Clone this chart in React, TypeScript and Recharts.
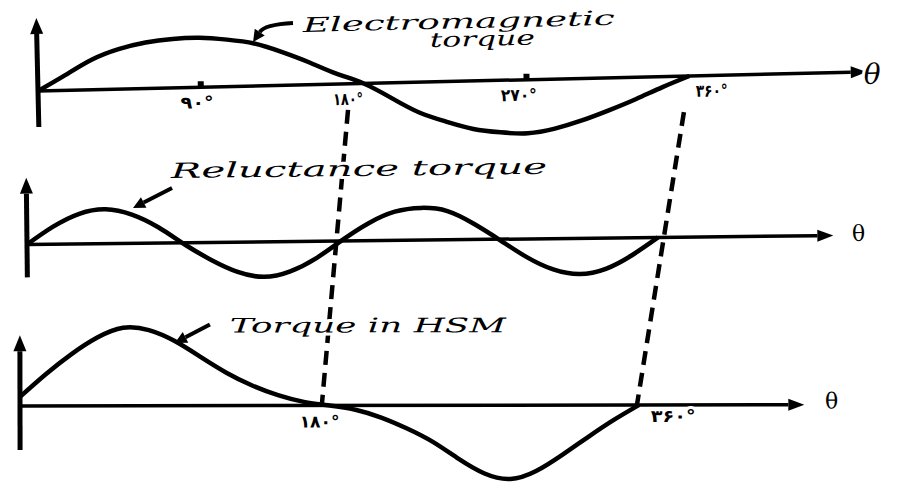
import React from 'react';
import { LineChart, Line, XAxis, YAxis, ReferenceLine, ReferenceDot } from 'recharts';

// rotor angle in degrees
const angles = [0, 15, 30, 45, 60, 75, 90, 105, 120, 135, 150, 165, 180, 195, 210, 225, 240, 255, 270, 285, 300, 315, 330, 345, 360];

// torque curves (arbitrary units)
const electromagnetic = [0, 0.3, 0.6, 0.8, 0.92, 0.98, 0.99, 0.94, 0.85, 0.67, 0.45, 0.21, 0, -0.3, -0.6, -0.8, -0.96, -1.04, -1.07, -0.99, -0.84, -0.65, -0.44, -0.21, 0];
const reluctance = [0, 0.5, 0.86, 0.98, 0.82, 0.45, -0.05, -0.5, -0.85, -1.0, -0.85, -0.48, 0.03, 0.5, 0.82, 0.92, 0.82, 0.45, -0.03, -0.52, -0.88, -1.02, -0.88, -0.5, 0];
const hsm = [0.15, 0.52, 0.85, 1.12, 1.28, 1.24, 1.06, 0.8, 0.54, 0.33, 0.17, 0.06, 0, -0.07, -0.2, -0.38, -0.6, -0.88, -1.12, -1.21, -1.08, -0.82, -0.53, -0.25, 0];

const topTickAngles = [90, 180, 270, 360];
const topTickLabels = ['۹۰°', '۱۸۰°', '۲۷۰°', '۳۶۰°'];
const hsmTickAngles = [180, 360];
const hsmTickLabels = ['۱۸۰°', '۳۶۰°'];

const curveTitles = ['Electromagnetic', 'torque', 'Reluctance torque', 'Torque in HSM'];

const W = 903;
const H = 484;

const TOP = { ox: 38, oy: 91, kx: 1.81, ky: 50, tilt: -1.32 };
const MID = { ox: 27, oy: 244.5, kx: 1.753, ky: 35, tilt: -0.64 };
const BOT = { ox: 20, oy: 406, kx: 1.72, ky: 61, tilt: -0.1 };

const rows = (vals: number[]) => angles.map((deg, i) => ({ deg, v: vals[i] }));

function arrowShape(head: number, spread: number, bend = 0) {
  return (p: any) => {
    const { x1, y1, x2, y2 } = p;
    const sw = p.strokeWidth ?? 3;
    const cx = x2 + (x1 - x2) * 0.3;
    const cy = y1 + (y2 - y1) * bend;
    const tx = bend ? x2 - cx : x2 - x1;
    const ty = bend ? y2 - cy : y2 - y1;
    const len = Math.hypot(tx, ty) || 1;
    const ux = tx / len;
    const uy = ty / len;
    const bx = x2 - ux * head;
    const by = y2 - uy * head;
    const d = bend ? `M${x1},${y1} Q${cx},${cy} ${bx},${by}` : `M${x1},${y1} L${bx},${by}`;
    const pts = `${x2},${y2} ${bx - uy * spread},${by + ux * spread} ${bx + uy * spread},${by - ux * spread}`;
    return (
      <g>
        <path d={d} fill="none" stroke="#000" strokeWidth={sw} />
        <polygon points={pts} fill="#000" />
      </g>
    );
  };
}

type TxtOpts = { size: number; italic?: boolean; bold?: boolean; length?: number; family?: string; anchor?: string; dx?: number; dy?: number };

function textShape(value: string, o: TxtOpts) {
  return (p: any) => (
    <text
      x={p.cx + (o.dx || 0)}
      y={p.cy + (o.dy || 0)}
      fontFamily={o.family || 'DejaVu Serif'}
      fontStyle={o.italic ? 'italic' : 'normal'}
      fontWeight={o.bold ? 'bold' : 'normal'}
      fontSize={o.size}
      textAnchor={o.anchor || 'start'}
      textLength={o.length}
      lengthAdjust={o.length ? 'spacingAndGlyphs' : undefined}
      fill="#000"
      stroke="#fff"
      strokeWidth={6}
      paintOrder="stroke"
      strokeLinejoin="round"
    >
      {value}
    </text>
  );
}

function Panel({ cfg, data, children }: { cfg: typeof TOP; data: any[]; children: React.ReactNode }) {
  const xDom = [-cfg.ox / cfg.kx, (W - cfg.ox) / cfg.kx];
  const yDom = [-(H - cfg.oy) / cfg.ky, cfg.oy / cfg.ky];
  return (
    <div
      style={{
        position: 'absolute', left: 0, top: 0, width: W, height: H,
        transform: `rotate(${cfg.tilt}deg)`, transformOrigin: `${cfg.ox}px ${cfg.oy}px`,
      }}
    >
      <LineChart width={W} height={H} data={data} margin={{ top: 0, right: 0, bottom: 0, left: 0 }}>
        <XAxis dataKey="deg" type="number" domain={xDom} hide allowDataOverflow />
        <YAxis type="number" domain={yDom} hide allowDataOverflow />
        {children}
        <Line dataKey="v" type="natural" stroke="#000" strokeWidth={4.5} dot={false} activeDot={false} isAnimationActive={false} />
      </LineChart>
    </div>
  );
}

const axisArrow = arrowShape(16, 6);
const vAxisArrow = arrowShape(16, 6.5);
const pointer = arrowShape(12, 6);
const guide = { stroke: '#000', strokeWidth: 4.5, strokeDasharray: '14 8' };

export default function App() {
  return (
    <div style={{ position: 'absolute', left: 0, top: 0, width: W, height: H, background: '#fff', overflow: 'hidden' }}>
      {/* Electromagnetic torque (also holds the dashed guide lines) */}
      <Panel cfg={TOP} data={rows(electromagnetic)}>
        <ReferenceLine segment={[{ x: 171, y: -0.52 }, { x: 152.9, y: -6.37 }]} {...guide} ifOverflow="visible" />
        <ReferenceLine segment={[{ x: 356.5, y: -0.72 }, { x: 326.9, y: -6.54 }]} {...guide} ifOverflow="visible" />
        <ReferenceLine segment={[{ x: 0, y: 0 }, { x: 458, y: 0 }]} strokeWidth={3.5} shape={axisArrow} ifOverflow="visible" />
        <ReferenceLine segment={[{ x: 0, y: -0.72 }, { x: 0, y: 1.46 }]} strokeWidth={5} shape={vAxisArrow} ifOverflow="visible" />
        {[90, 270].map((d) => (
          <ReferenceLine key={d} segment={[{ x: d, y: 0 }, { x: d, y: 0.12 }]} stroke="#000" strokeWidth={6} ifOverflow="visible" />
        ))}
        {topTickAngles.map((d, i) => (
          <ReferenceDot key={d} x={d} y={0} r={0} ifOverflow="visible"
            shape={textShape(topTickLabels[i], { size: 17, bold: true, family: 'DejaVu Sans', anchor: 'middle', length: [33, 30, 36, 32][i], dx: [-4, -16, -8, 22][i], dy: 21 })} />
        ))}
        <ReferenceDot x={147.1} y={1.058} r={0} ifOverflow="visible" shape={textShape(curveTitles[0], { size: 20, italic: true, length: 312 })} />
        <ReferenceDot x={217.1} y={0.7} r={0} ifOverflow="visible" shape={textShape(curveTitles[1], { size: 20, italic: true, length: 105 })} />
        <ReferenceLine segment={[{ x: 141.7, y: 1.24 }, { x: 119.4, y: 0.88 }]} strokeWidth={4} shape={arrowShape(12, 6, 0.05)} ifOverflow="visible" />
        <ReferenceDot x={456.3} y={-0.24} r={0} ifOverflow="visible" shape={textShape('θ', { size: 28, italic: true })} />
      </Panel>

      {/* Reluctance torque */}
      <Panel cfg={MID} data={rows(reluctance)}>
        <ReferenceLine segment={[{ x: 0, y: 0 }, { x: 460, y: 0 }]} strokeWidth={3.5} shape={axisArrow} ifOverflow="visible" />
        <ReferenceLine segment={[{ x: 0, y: -0.94 }, { x: 0, y: 1.91 }]} strokeWidth={5} shape={vAxisArrow} ifOverflow="visible" />
        <ReferenceDot x={82.6} y={1.855} r={0} ifOverflow="visible" shape={textShape(curveTitles[2], { size: 21, italic: true, length: 376 })} />
        <ReferenceLine segment={[{ x: 83.1, y: 1.57 }, { x: 60.7, y: 1.01 }]} strokeWidth={4} shape={pointer} ifOverflow="visible" />
        <ReferenceDot x={470.6} y={-0.16} r={0} ifOverflow="visible" shape={textShape('θ', { size: 22 })} />
      </Panel>

      {/* Torque in HSM */}
      <Panel cfg={BOT} data={rows(hsm)}>
        <ReferenceLine segment={[{ x: 0, y: 0 }, { x: 456, y: 0 }]} strokeWidth={3.5} shape={axisArrow} ifOverflow="visible" />
        <ReferenceLine segment={[{ x: 0, y: -0.72 }, { x: 0, y: 1.16 }]} strokeWidth={5} shape={vAxisArrow} ifOverflow="visible" />
        {hsmTickAngles.map((d, i) => (
          <ReferenceDot key={d} x={d} y={0} r={0} ifOverflow="visible"
            shape={textShape(hsmTickLabels[i], { size: 17, bold: true, family: 'DejaVu Sans', anchor: 'middle', length: [40, 45][i], dx: [-10, 34][i], dy: [22, 17][i] })} />
        ))}
        <ReferenceDot x={122.1} y={1.197} r={0} ifOverflow="visible" shape={textShape(curveTitles[3], { size: 20, italic: true, length: 276 })} />
        <ReferenceLine segment={[{ x: 110.5, y: 1.33 }, { x: 90.1, y: 1.03 }]} strokeWidth={4} shape={pointer} ifOverflow="visible" />
        <ReferenceDot x={468} y={-0.066} r={0} ifOverflow="visible" shape={textShape('θ', { size: 22 })} />
      </Panel>
    </div>
  );
}
